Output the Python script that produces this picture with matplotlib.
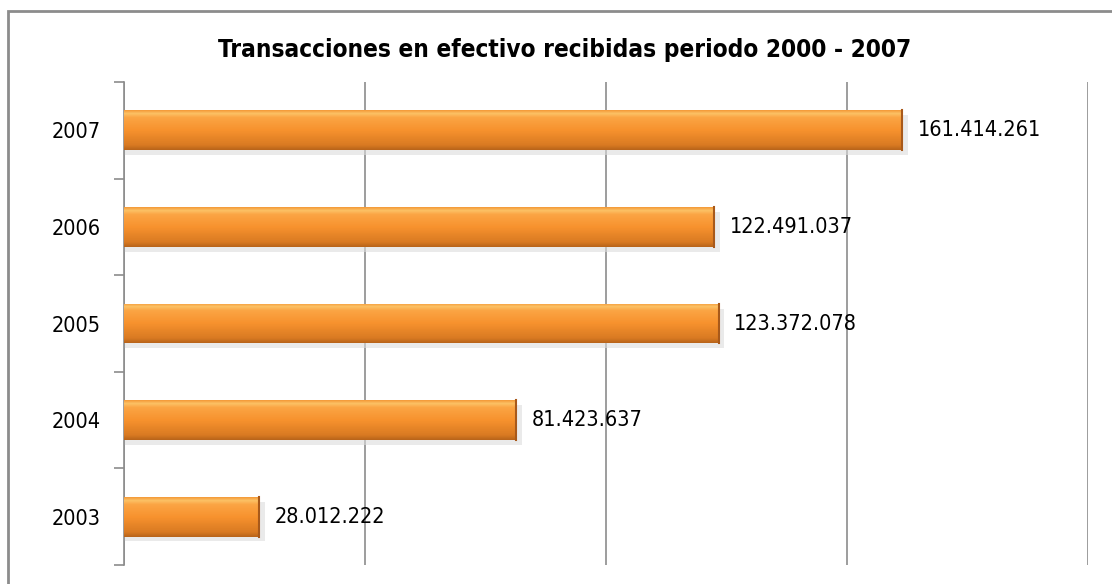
import numpy as np
import matplotlib.pyplot as plt
from matplotlib.patches import Rectangle
from matplotlib.colors import LinearSegmentedColormap

years = ["2003", "2004", "2005", "2006", "2007"]
values = [28012222, 81423637, 123372078, 122491037, 161414261]
labels = ["28.012.222", "81.423.637", "123.372.078", "122.491.037", "161.414.261"]
title = "Transacciones en efectivo recibidas periodo 2000 - 2007"

narrow = ["DejaVu Sans"]

fig = plt.figure(figsize=(11.12, 5.84), dpi=100)
ax = fig.add_axes([124 / 1112, 1 - 565 / 584, (1088 - 124) / 1112, (565 - 82) / 584])

# outer chart frame (cropped on right and bottom)
fig.patches.append(Rectangle((8 / 1112, -0.1), 1.2, 1 - 11 / 584 + 0.1,
                             transform=fig.transFigure, fill=False,
                             edgecolor="#8c8c8c", linewidth=2))

y = np.arange(len(years))
bars = ax.barh(y, values, height=0.41, color="#f7922e", zorder=3)

# orange gradient + soft shadow for each bar
cmap = LinearSegmentedColormap.from_list(
    "bev", [(0.0, "#b8641a"), (0.12, "#d97a22"), (0.5, "#f7922e"),
            (0.82, "#fba544"), (0.92, "#fcc266"), (1.0, "#f49a38")])
grad = np.linspace(0, 1, 100).reshape(-1, 1)
for b in bars:
    x0, y0, w, h = b.get_x(), b.get_y(), b.get_width(), b.get_height()
    sh = Rectangle((x0, y0 - 0.05), w + 1.2e6, h, color="#dcdcdc", alpha=0.6, zorder=2, lw=0)
    ax.add_patch(sh)
    im = ax.imshow(grad, extent=[x0, x0 + w, y0, y0 + h], origin="lower",
                   cmap=cmap, aspect="auto", zorder=4)
    im.set_clip_path(b)
    ax.plot([x0 + w, x0 + w], [y0, y0 + h], color="#a8591a", lw=1.5, zorder=5)

for yi, v, lab in zip(y, values, labels):
    ax.text(v + 3.2e6, yi, lab, va="center", ha="left", fontsize=15.5,
            family=narrow, stretch="condensed", color="black", zorder=6)

ax.set_xlim(0, 200e6)
ax.set_ylim(-0.5, len(years) - 0.5)
ax.set_xticks([0, 50e6, 100e6, 150e6, 200e6])
ax.xaxis.set_ticklabels([])
ax.tick_params(axis="x", length=0)
ax.grid(axis="x", color="#8c8c8c", lw=1.2, zorder=0)

ax.set_yticks(y)
ax.set_yticklabels(years, fontsize=15.5, family=narrow, stretch="condensed")
ax.set_yticks(np.arange(-0.5, len(years), 1), minor=True)
ax.tick_params(axis="y", which="major", length=0, pad=17)
ax.tick_params(axis="y", which="minor", length=7, width=1.2, color="#8c8c8c")

for s in ["top", "right", "bottom"]:
    ax.spines[s].set_visible(False)
ax.spines["left"].set_color("#8c8c8c")
ax.spines["left"].set_linewidth(1.2)

fig.text(565 / 1112, 1 - 50 / 584, title, ha="center", va="center",
         fontsize=17.5, fontweight="bold", family=narrow, stretch="condensed")

fig.savefig("out.png", dpi=100)
